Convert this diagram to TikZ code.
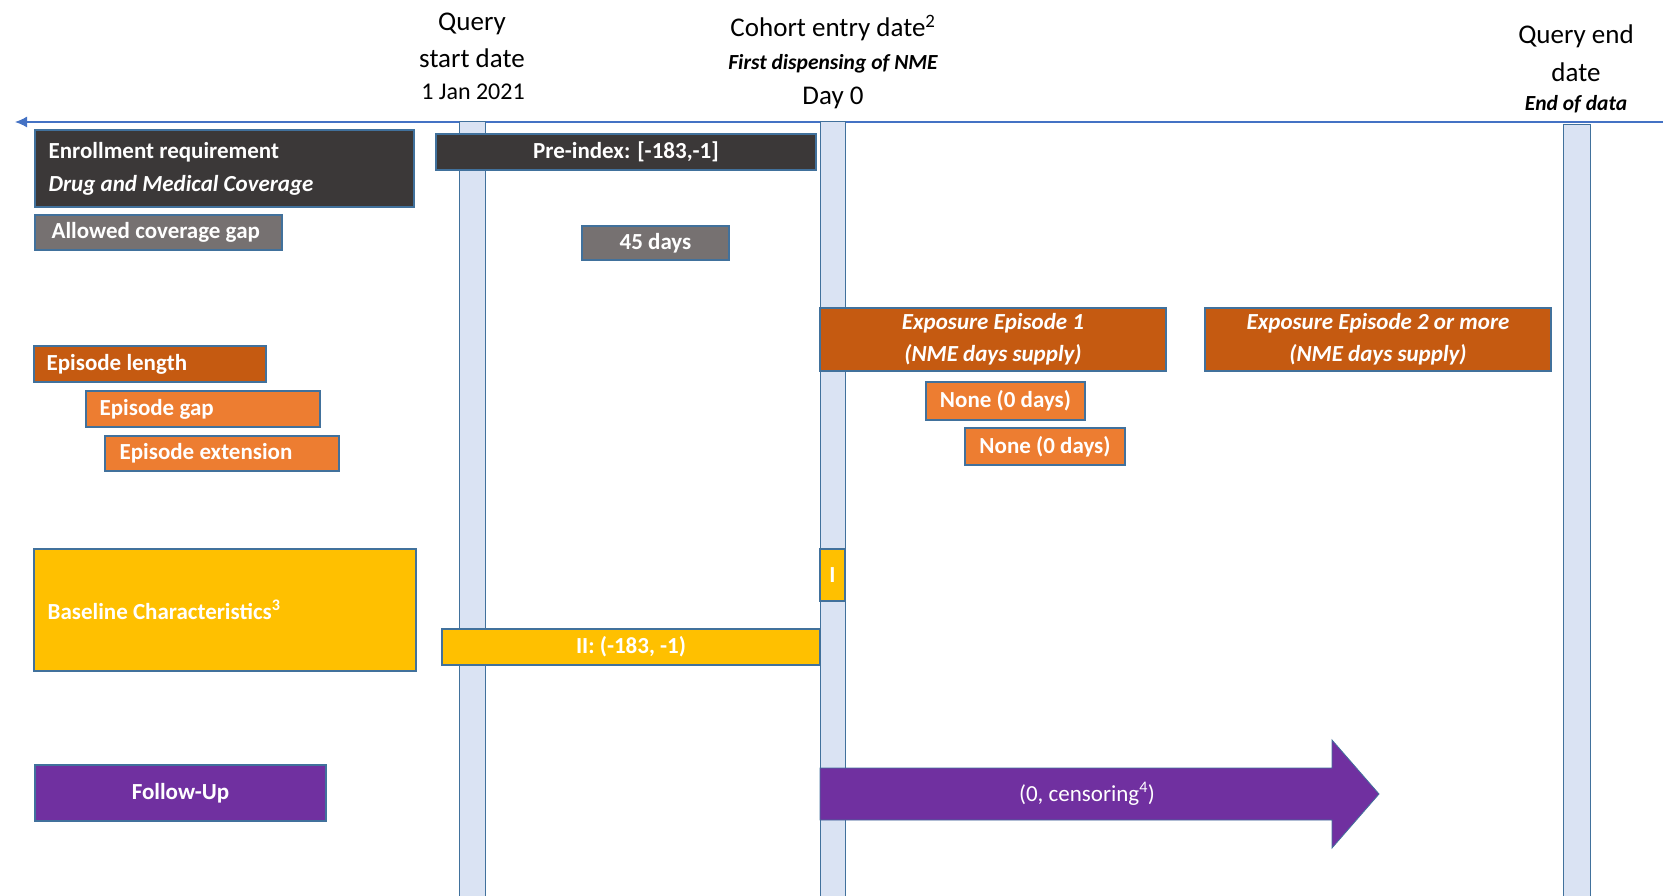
\documentclass[tikz,border=0pt]{standalone}
\usepackage{fontspec}
\setmainfont{Carlito}
\usetikzlibrary{arrows.meta}
\definecolor{axisblue}{HTML}{4472C4}
\definecolor{edgeblue}{HTML}{41719C}
\definecolor{barfill}{HTML}{DAE3F3}
\definecolor{darkbox}{HTML}{3B3838}
\definecolor{graybox}{HTML}{767171}
\definecolor{rust}{HTML}{C55A11}
\definecolor{orangebox}{HTML}{ED7D31}
\definecolor{goldbox}{HTML}{FFC000}
\definecolor{purplebox}{HTML}{7030A0}
\tikzset{
  bx/.style={draw=edgeblue, line width=1.2pt, text=white, inner sep=0pt,
    font=\fontsize{23}{33}\selectfont\bfseries, align=center},
  lbl/.style={anchor=west, text=white, inner sep=0pt, align=left,
    font=\fontsize{23}{33}\selectfont\bfseries},
  bar/.style={draw=edgeblue, fill=barfill, line width=1pt},
  hdr/.style={anchor=base, text=black, inner sep=0pt, font=\fontsize{27}{33}\selectfont},
  hdrsub/.style={anchor=base, text=black, inner sep=0pt, font=\fontsize{21.5}{24}\selectfont\bfseries\itshape},
}
\begin{document}
\begin{tikzpicture}[x=1pt,y=-1pt]
\clip (0,0) rectangle (1663,896);
\fill[white] (0,0) rectangle (1663,896);

% time axis
\coordinate (axL) at (15,122);
\coordinate (axR) at (1675,122);
\draw[axisblue, line width=1.3pt, {Latex[length=12pt,width=11pt]}-{Latex[length=12pt,width=11pt]}] (axL) -- (axR);

% vertical date bars
\draw[bar] (459,122) rectangle (485,905);
\draw[bar] (820,122) rectangle (845,905);
\draw[bar] (1563,125) rectangle (1590,905);

% headers
\node[hdr] (qs1) at (472,31) {Query};
\node[hdr] (qs2) at (472,68) {start date};
\node[hdr, font=\fontsize{24}{28}\selectfont] (qs3) at (473,100) {1 Jan 2021};
\node[hdr] (ce1) at (833,37) {Cohort entry date\textsuperscript{2}};
\node[hdrsub] (ce2) at (833,70) {First dispensing of NME};
\node[hdr] (ce3) at (833,105) {Day 0};
\node[hdr] (qe1) at (1576,44) {Query end};
\node[hdr] (qe2) at (1576,82) {date};
\node[hdrsub] (qe3) at (1576,111) {End of data};

% enrollment
\node[bx, fill=darkbox, minimum width=379pt, minimum height=77pt] (enroll) at (224.5,168.5) {};
\node[lbl] (enrolltxt) at ([xshift=14pt]enroll.west) {Enrollment requirement\\\textit{Drug and Medical Coverage}};
\node[bx, fill=darkbox, minimum width=380pt, minimum height=36pt] (preidx) at (626,152) {Pre-index: [-183,-1]};
\node[bx, fill=graybox, minimum width=247pt, minimum height=35pt] (allowed) at (158.5,232.5) {};
\node[lbl] (allowedtxt) at ([xshift=17pt]allowed.west) {Allowed coverage gap};
\node[bx, fill=graybox, minimum width=147pt, minimum height=34pt] (days45) at (655.5,243) {45 days};

% episodes
\node[bx, fill=rust, minimum width=232pt, minimum height=36pt] (eplen) at (150,364) {};
\node[lbl] (eplentxt) at ([xshift=13pt]eplen.west) {Episode length};
\node[bx, fill=orangebox, minimum width=234pt, minimum height=36pt] (epgap) at (203,409) {};
\node[lbl] (epgaptxt) at ([xshift=14pt]epgap.west) {Episode gap};
\node[bx, fill=orangebox, minimum width=234pt, minimum height=35pt] (epext) at (222,453.5) {};
\node[lbl] (epexttxt) at ([xshift=15pt]epext.west) {Episode extension};
\node[bx, fill=rust, minimum width=346pt, minimum height=63pt, font=\fontsize{23}{32}\selectfont\bfseries\itshape] (exp1) at (993,339.5)
  {Exposure Episode 1\\(NME days supply)};
\node[bx, fill=rust, minimum width=346pt, minimum height=63pt, font=\fontsize{23}{32}\selectfont\bfseries\itshape] (exp2) at (1378,339.5)
  {Exposure Episode 2 or more\\(NME days supply)};
\node[bx, fill=orangebox, minimum width=159pt, minimum height=38pt] (none1) at (1005.5,401) {None (0 days)};
\node[bx, fill=orangebox, minimum width=160pt, minimum height=37pt] (none2) at (1045,446.5) {None (0 days)};

% baseline
\node[bx, fill=goldbox, minimum width=382pt, minimum height=122pt] (base) at (225,610) {};
\node[lbl] (basetxt) at ([xshift=14pt]base.west) {Baseline Characteristics\textsuperscript{3}};
\node[bx, fill=goldbox, minimum width=25pt, minimum height=52pt] (boxI) at (832.5,575) {I};
\node[bx, fill=goldbox, minimum width=378pt, minimum height=36pt] (boxII) at (631,647) {II: (-183, -1)};

% follow-up
\node[bx, fill=purplebox, minimum width=291pt, minimum height=56pt] (follow) at (180.5,793) {Follow-Up};
\draw[fill=purplebox, draw=edgeblue, line width=0.8pt] (820,768) -- (1332,768) -- (1332,740) -- (1379,794) -- (1332,848) -- (1332,820) -- (820,820) -- cycle;
\node[text=white, inner sep=0pt, font=\fontsize{23}{28}\selectfont] (fulab) at (1087,794) {(0, censoring\textsuperscript{4})};
\end{tikzpicture}
\end{document}
